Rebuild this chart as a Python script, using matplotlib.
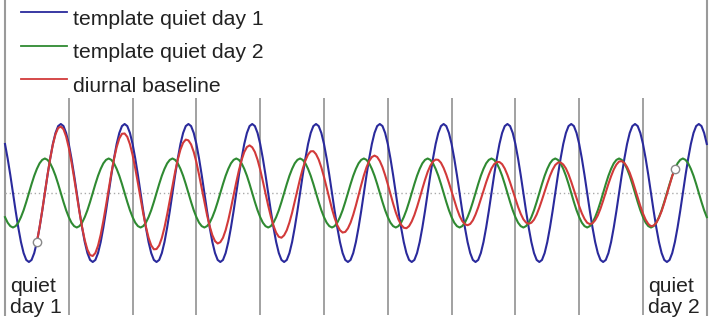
import numpy as np
import matplotlib
matplotlib.use("Agg")
import matplotlib.pyplot as plt

# ---- data ----
n_days = 11
hours = list(range(24))
# hourly values of the two template quiet days (one day each)
template_day1 = [0.71, 0.50, 0.26, 0.00, -0.26, -0.50, -0.71, -0.87, -0.97, -1.00, -0.97, -0.87,
                 -0.71, -0.50, -0.26, 0.00, 0.26, 0.50, 0.71, 0.87, 0.97, 1.00, 0.97, 0.87]
template_day2 = [-0.35, -0.43, -0.48, -0.50, -0.48, -0.43, -0.35, -0.25, -0.13, 0.00, 0.13, 0.25,
                 0.35, 0.43, 0.48, 0.50, 0.48, 0.43, 0.35, 0.25, 0.13, 0.00, -0.13, -0.25]
baseline_start_hour = 12      # noon of quiet day 1
baseline_end_hour = 252       # noon of quiet day 2
legend_labels = ["template quiet day 1", "template quiet day 2", "diurnal baseline"]
day_labels = ["quiet\nday 1", "quiet\nday 2"]
day_label_days = [0, 10]

# ---- build series ----
t = np.arange(n_days * 24 + 1)
q1 = np.array(template_day1 + template_day1 * (n_days - 1) + template_day1[:1])
q2 = np.array(template_day2 + template_day2 * (n_days - 1) + template_day2[:1])
mask = (t >= baseline_start_hour) & (t <= baseline_end_hour)
tb = t[mask]
w = (baseline_end_hour - tb) / (baseline_end_hour - baseline_start_hour)
base = w * q1[mask] + (1 - w) * q2[mask]

# ---- figure ----
W, H = 713, 323
fig = plt.figure(figsize=(W / 100, H / 100), dpi=100)
ax = fig.add_axes([0, 0, 1, 1])
px_per_h = 63.8 / 24
x0 = 5
ax.set_xlim(-x0 / px_per_h, (W - x0) / px_per_h)
yc, amp = 193, 69
ax.set_ylim((yc - H) / amp, yc / amp)
ax.axis("off")

def vy(py):
    return (yc - py) / amp

grey = "#9a9a9a"
# day separators
ax.vlines([d * 24 for d in range(1, n_days)], vy(315), vy(98), color=grey, lw=1.3, zorder=1)
ax.vlines([0, n_days * 24], vy(316), vy(0), color=grey, lw=1.5, zorder=1)
ax.hlines(0, 0, n_days * 24, color="#aaaaaa", lw=1.0, ls=(0, (1, 2)), zorder=1)

c_blue = "#2a2a9c"
c_green = "#2f8a32"
c_red = "#d23a3a"
lw = 1.5
ax.plot(t, q1, color=c_blue, lw=lw, zorder=3)
ax.plot(t, q2, color=c_green, lw=lw, zorder=4)
ax.plot(tb, base, color=c_red, lw=lw, zorder=5)
ax.plot([tb[0], tb[-1]], [base[0], base[-1]], ls="none", marker="o", ms=6,
        mfc="white", mec="#888888", mew=1.0, zorder=6)

font = "Liberation Sans"
tc = "#222222"
for i, (lab, col) in enumerate(zip(legend_labels, [c_blue, c_green, c_red])):
    ly = 12.3 + 33.4 * i
    ax.plot([21 / W, 67 / W], [1 - ly / H, 1 - ly / H], color=col, lw=1.3,
            transform=ax.transAxes, clip_on=False)
    ax.text(73 / W, 1 - (ly + 12.5) / H, lab, transform=ax.transAxes, ha="left",
            va="baseline", fontsize=15.2, family=font, color=tc)

for lab, d in zip(day_labels, day_label_days):
    ax.text(d * 24 + 1.9, vy(313), lab, ha="left", va="baseline", fontsize=15.2,
            family=font, color=tc, linespacing=1.15)

fig.savefig("out.png", dpi=100, facecolor="white")
